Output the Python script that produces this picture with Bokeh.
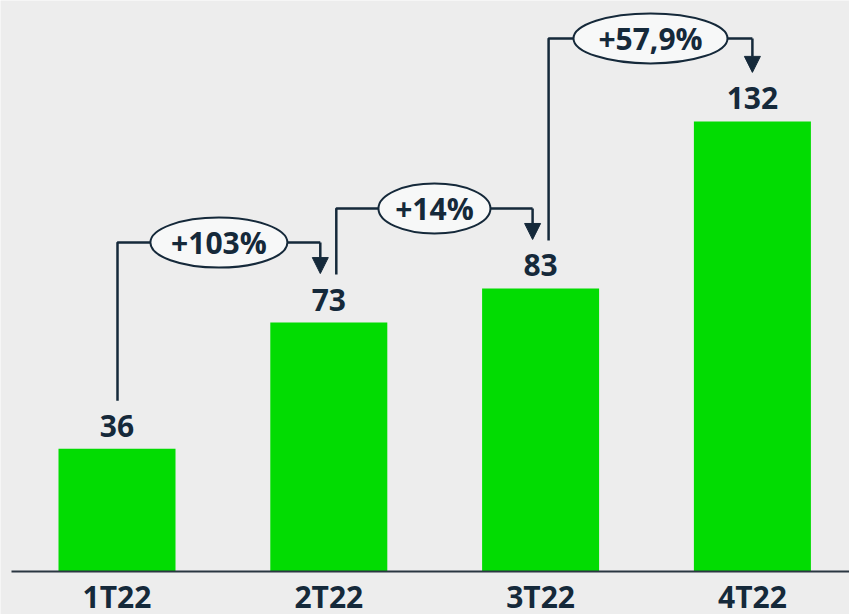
from bokeh.plotting import figure
from bokeh.models import Range1d, Arrow, NormalHead, ColumnDataSource
from bokeh.core.properties import value
from bokeh.embed import file_html
from bokeh.resources import INLINE

# ---- data ----
categories = ["1T22", "2T22", "3T22", "4T22"]
values = [36, 73, 83, 132]
value_labels = ["36", "73", "83", "132"]
growth_labels = ["+103%", "+14%", "+57,9%"]

# ---- layout / style ----
W, H = 849, 614
SX = 211.8   # px per category step
SY = 3.41    # px per value unit
X0 = 116.5   # px of first bar center
Y0 = 571     # px of zero line
BG = "#EDEDED"
GREEN = "#02DC02"
NAVY = "#15293A"
FONT = "Open Sans"
BASE_FIX = -11  # compensation for alphabetic baseline placement

x_range = Range1d((0 - X0) / SX, (W - X0) / SX)
y_range = Range1d((Y0 - H) / SY, (Y0 - 0) / SY)

p = figure(width=W, height=H, x_range=x_range, y_range=y_range,
           output_backend="svg", toolbar_location=None,
           x_axis_type=None, y_axis_type=None, min_border=0)
p.grid.visible = False
p.outline_line_color = None
p.background_fill_color = BG
p.border_fill_color = BG

xs = list(range(len(categories)))
src = ColumnDataSource(dict(x=xs, top=values, vl=value_labels, cat=categories))

p.vbar(x="x", top="top", bottom=0, width=117 / SX, source=src,
       fill_color=GREEN, line_color=None)

# baseline
p.segment(x0=[(11 - X0) / SX], y0=[0], x1=[(W - X0) / SX], y1=[0],
          line_color="#2B3742", line_width=2)

# value labels
p.text(x="x", y="top", text="vl", source=src, text_align="center",
       text_baseline="alphabetic", y_offset=-12 + BASE_FIX,
       text_font=value(FONT), text_font_style="bold",
       text_font_size="30px", text_color=NAVY)

# category labels
p.text(x="x", y=0, text="cat", source=src, text_align="center",
       text_baseline="alphabetic", y_offset=36 + BASE_FIX,
       text_font=value(FONT), text_font_style="bold",
       text_font_size="30px", text_color=NAVY)

# connectors
out_dx = [0.5, 7.5, 8]
in_dx = [-8.5, -8, 0]
level_px = [80, 80, 83]
ell_w = [137, 112, 154]

path_xs, path_ys = [], []
ex, ey, etxt = [], [], []
for i in range(len(values) - 1):
    ox = i + out_dx[i] / SX
    ax = (i + 1) + in_dx[i] / SX
    ob = values[i] + 48 / SY
    lv = max(values[i], values[i + 1]) + level_px[i] / SY
    tip = values[i + 1] + 49 / SY
    path_xs.append([ox, ox, ax])
    path_ys.append([ob, lv, lv])
    p.add_layout(Arrow(x_start=ax, y_start=lv, x_end=ax, y_end=tip,
                       line_color=NAVY, line_width=2.5,
                       end=NormalHead(size=16, fill_color=NAVY,
                                      line_color=NAVY, line_width=1)))
    ex.append((ox + ax) / 2)
    ey.append(lv)
    etxt.append(growth_labels[i])

p.multi_line(xs=path_xs, ys=path_ys, line_color=NAVY, line_width=2.5)

esrc = ColumnDataSource(dict(x=ex, y=ey, w=ell_w, t=etxt))
p.ellipse(x="x", y="y", width="w", height=50, width_units="screen",
          height_units="screen", source=esrc,
          fill_color="#F7F8F8", line_color=NAVY, line_width=2)
p.text(x="x", y="y", text="t", source=esrc, text_align="center",
       text_baseline="alphabetic", y_offset=11 + BASE_FIX,
       text_font=value(FONT), text_font_style="bold",
       text_font_size="30px", text_color=NAVY)

html = file_html(p, INLINE)
open("out.html", "w").write(html)
